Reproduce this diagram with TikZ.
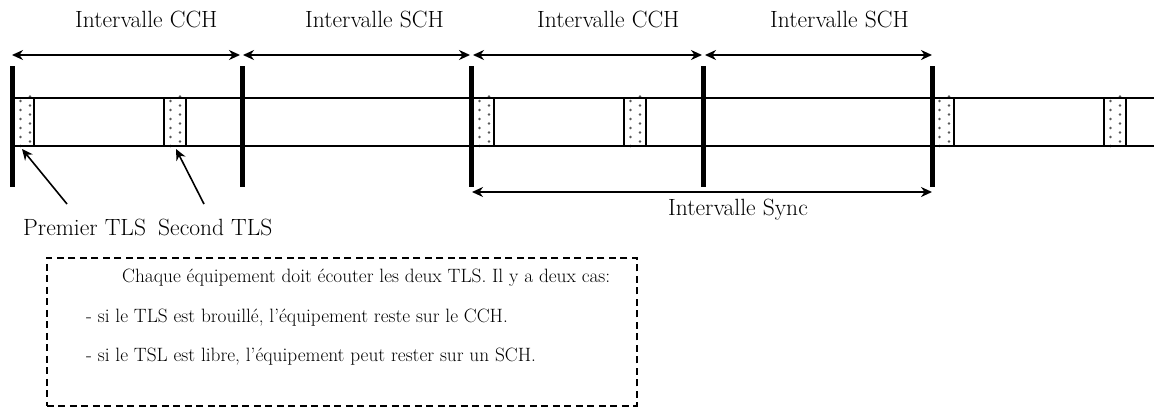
\documentclass[tikz,border=0pt]{standalone}
\usetikzlibrary{arrows.meta}
\begin{document}
\begin{tikzpicture}[x=1pt,y=-1pt,
  dimarrow/.style={line width=1.8pt,{Stealth[length=11pt,width=10pt]}-{Stealth[length=11pt,width=10pt]}},
  ptrarrow/.style={line width=1.6pt,-{Stealth[length=11pt,width=10pt]}},
  bar/.style={line width=5pt},
  chan/.style={line width=1.5pt},
  tlsbox/.style={line width=1.5pt},
  lbl/.style={font=\fontsize{23.5}{27}\selectfont,inner sep=0pt,anchor=base west},
  boxtxt/.style={font=\fontsize{19.3}{22}\selectfont,inner sep=0pt,anchor=base west},
  dotc/.style={fill=black!65}]
\useasboundingbox (0,0) rectangle (1154,407);
% coordinates
\foreach \n/\x in {b1/12,b2/242,b3/471,b4/703,b5/932}{
  \coordinate (\n t) at (\x,66);
  \coordinate (\n b) at (\x,187);
}
% channel lines
\coordinate (l1s) at (12,98); \coordinate (l1e) at (1154,98);
\coordinate (l2s) at (12,146); \coordinate (l2e) at (1154,146);
\draw[chan] (l1s) -- (l1e);
\draw[chan] (l2s) -- (l2e);
% TLS boxes
\foreach \n/\xa/\xb in {t1/14/34,t2/164/186,t3/473/494,t4/624/646,t5/933/954,t6/1104/1126}{
  \coordinate (\n a) at (\xa,98);
  \coordinate (\n b) at (\xb,146);
  \draw[tlsbox,fill=white] (\n a) rectangle (\n b);
  \foreach \yy in {101,110,119,128,137,146}{
    \fill[dotc] (\xa+6.5,\yy) circle (1.3);
    \fill[dotc] (\xa+16,\yy-4.5) circle (1.3);
  }
  \draw[tlsbox] (\n a) rectangle (\n b);
}
% bars
\foreach \n in {b1,b2,b3,b4,b5}{
  \draw[bar] (\n t) -- (\n b);
}
% top dimension arrows
\coordinate (a1s) at (12,55); \coordinate (a1e) at (240,55);
\coordinate (a2s) at (243,55); \coordinate (a2e) at (470,55);
\coordinate (a3s) at (473,55); \coordinate (a3e) at (702,55);
\coordinate (a4s) at (705,55); \coordinate (a4e) at (932,55);
\draw[dimarrow] (a1s) -- (a1e);
\draw[dimarrow] (a2s) -- (a2e);
\draw[dimarrow] (a3s) -- (a3e);
\draw[dimarrow] (a4s) -- (a4e);
\node[lbl] (c1) at (75,27) {Intervalle CCH};
\node[lbl] (s1) at (305,27) {Intervalle SCH};
\node[lbl] (c2) at (537,27) {Intervalle CCH};
\node[lbl] (s2) at (770,27) {Intervalle SCH};
% sync arrow
\coordinate (sys) at (472,192); \coordinate (sye) at (932,192);
\draw[dimarrow] (sys) -- (sye);
\node[lbl] (sync) at (668,215) {Intervalle Sync};
% TLS labels & pointers
\node[lbl] (p1) at (23,235) {Premier TLS};
\node[lbl] (p2) at (158,235) {Second TLS};
\coordinate (p1t) at (67,204); \coordinate (p1h) at (22,149);
\coordinate (p2t) at (204,204); \coordinate (p2h) at (176,149);
\draw[ptrarrow] (p1t) -- (p1h);
\draw[ptrarrow] (p2t) -- (p2h);
% dashed box
\node[draw,line width=1.5pt,dash pattern=on 7pt off 4.5pt,minimum width=590pt,minimum height=148pt,anchor=north west,inner sep=0pt] (box) at (46,257) {};
\node[boxtxt] (tx1) at (122,282) {Chaque équipement doit écouter les deux TLS. Il y a deux cas:};
\node[boxtxt] (tx2) at (86,322) {- si le TLS est brouillé, l'équipement reste sur le CCH.};
\node[boxtxt] (tx3) at (86,361) {- si le TSL est libre, l'équipement peut rester sur un SCH.};
\end{tikzpicture}
\end{document}
